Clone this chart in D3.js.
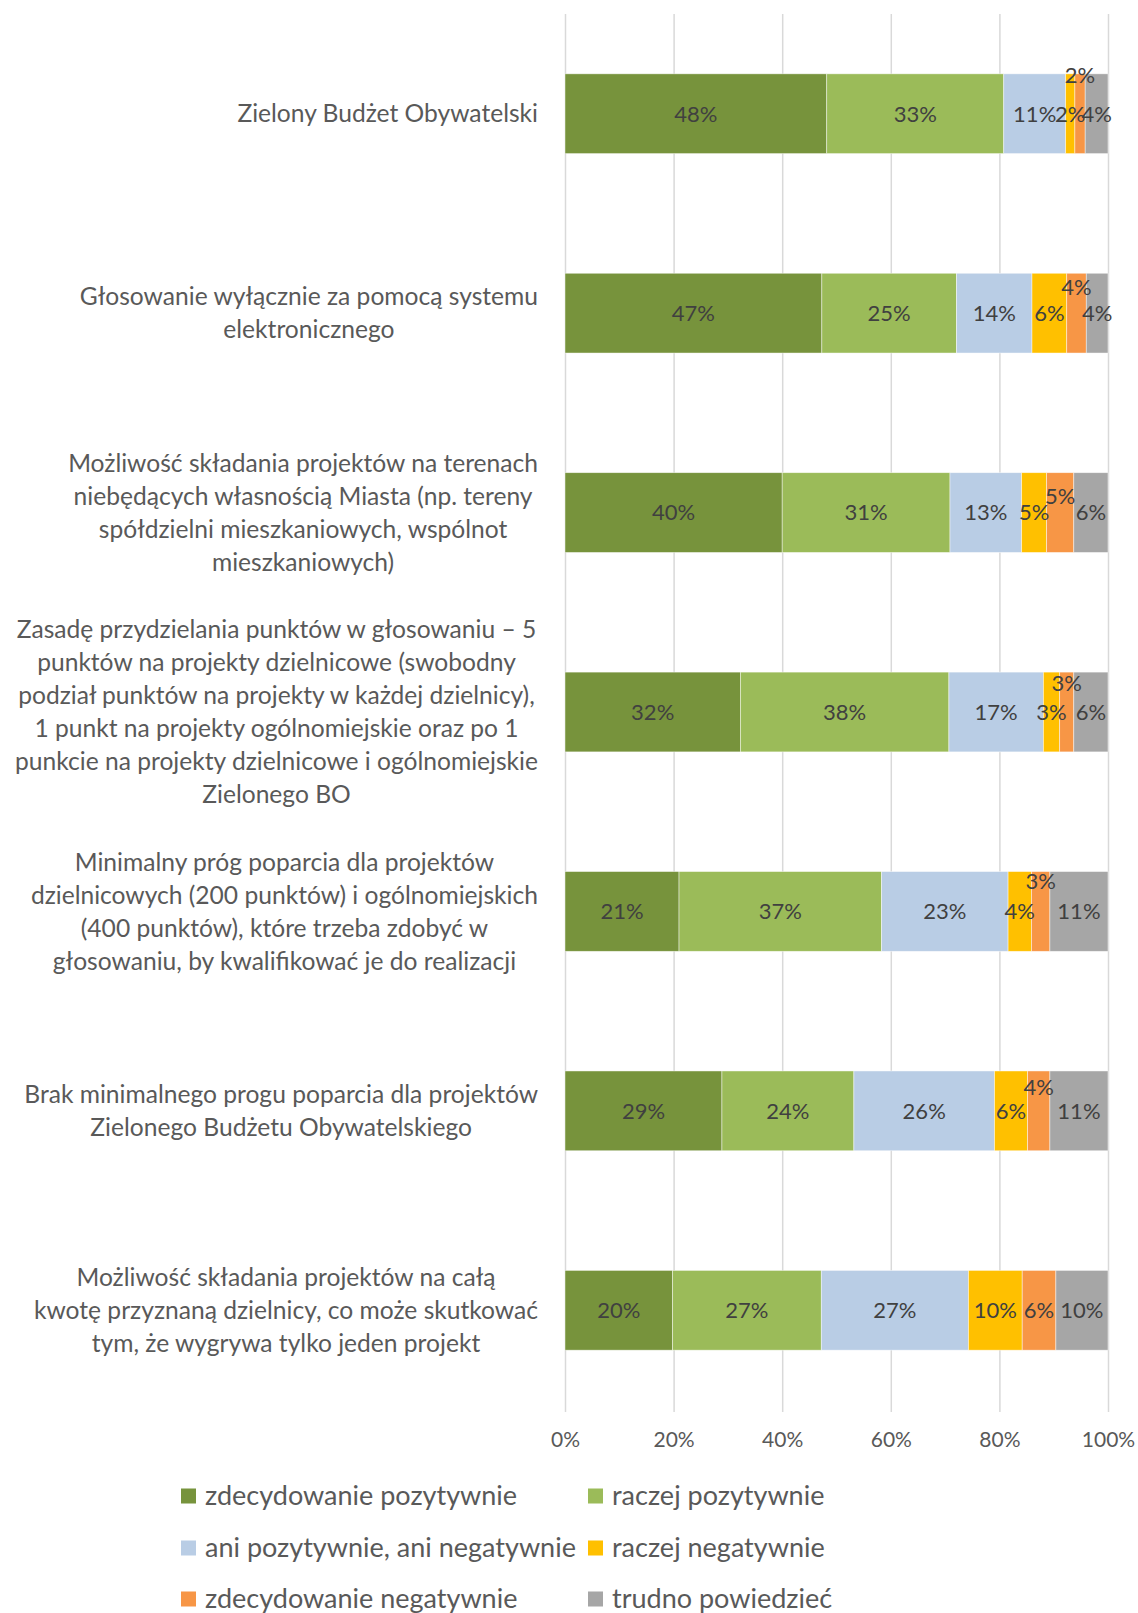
<!DOCTYPE html>
<html>
<head>
<meta charset="utf-8">
<script src="https://cdn.jsdelivr.net/npm/d3@7"></script>
<style>
  body { margin: 0; background: #fff; }
  svg { display: block; font-family: Lato, 'Open Sans', sans-serif; }
</style>
</head>
<body>
<div id="chart"></div>
<script>
// category labels, already wrapped the way the original wraps them
const categories = [
  ['Zielony Budżet Obywatelski'],
  ['Głosowanie wyłącznie za pomocą systemu', 'elektronicznego'],
  ['Możliwość składania projektów na terenach', 'niebędących własnością Miasta (np. tereny', 'spółdzielni mieszkaniowych, wspólnot', 'mieszkaniowych)'],
  ['Zasadę przydzielania punktów w głosowaniu – 5', 'punktów na projekty dzielnicowe (swobodny', 'podział punktów na projekty w każdej dzielnicy),', '1 punkt na projekty ogólnomiejskie oraz po 1', 'punkcie na projekty dzielnicowe i ogólnomiejskie', 'Zielonego BO'],
  ['Minimalny próg poparcia dla projektów', 'dzielnicowych (200 punktów) i ogólnomiejskich', '(400 punktów), które trzeba zdobyć w', 'głosowaniu, by kwalifikować je do realizacji'],
  ['Brak minimalnego progu poparcia dla projektów', 'Zielonego Budżetu Obywatelskiego'],
  ['Możliwość składania projektów na całą', 'kwotę przyznaną dzielnicy, co może skutkować', 'tym, że wygrywa tylko jeden projekt']
];

const seriesNames = [
  'zdecydowanie pozytywnie',
  'raczej pozytywnie',
  'ani pozytywnie, ani negatywnie',
  'raczej negatywnie',
  'zdecydowanie negatywnie',
  'trudno powiedzieć'
];

const zdecydowaniePozytywnie = [48.2, 47.3, 40.0, 32.3, 21.0, 28.9, 19.8];
const raczejPozytywnie       = [32.6, 24.8, 30.9, 38.4, 37.3, 24.3, 27.4];
const aniAni                 = [11.4, 13.9, 13.2, 17.4, 23.3, 25.9, 27.1];
const raczejNegatywnie       = [1.7, 6.4, 4.6, 3.0, 4.3, 6.1, 9.9];
const zdecydowanieNegatywnie = [1.9, 3.6, 5.0, 2.6, 3.4, 4.1, 6.2];
const trudnoPowiedziec       = [4.2, 4.0, 6.3, 6.3, 10.7, 10.7, 9.6];

const xTicks = [0, 20, 40, 60, 80, 100];

const colors = ['#77933C', '#9BBB59', '#B9CDE5', '#FFC000', '#F79646', '#A6A6A6'];

// the orange labels were nudged upward in the original, per row
const orangeLabelRaise = [39, 26, 16, 29, 30, 24, 0];

const seriesValues = [zdecydowaniePozytywnie, raczejPozytywnie, aniAni, raczejNegatywnie, zdecydowanieNegatywnie, trudnoPowiedziec];
const rows = categories.map((c, i) => {
  const r = { idx: i };
  seriesNames.forEach((s, j) => { r[s] = seriesValues[j][i]; });
  return r;
});

const width = 1138, height = 1613;
const plot = { left: 565, right: 1108, top: 14, bottom: 1412 };

const svg = d3.select('#chart').append('svg')
  .attr('width', width)
  .attr('height', height);

const x = d3.scaleLinear().domain([0, 100]).range([plot.left, plot.right]);
const y = d3.scaleBand()
  .domain(d3.range(categories.length))
  .range([plot.top, plot.bottom - 2])
  .paddingInner(0.6)
  .paddingOuter(0.3);

// gridlines + tick labels
const xAxis = d3.axisBottom(x)
  .tickValues(xTicks)
  .tickFormat(d => d + '%')
  .tickSize(-(plot.bottom - plot.top))
  .tickPadding(20);

const gx = svg.append('g')
  .attr('class', 'x axis')
  .attr('transform', `translate(0, ${plot.bottom})`)
  .call(xAxis);
gx.select('.domain').remove();
gx.selectAll('line').attr('stroke', '#D9D9D9').attr('stroke-width', 1.5);
gx.selectAll('text')
  .attr('fill', '#595959')
  .style('font-size', '21px')
  .style('font-family', 'Lato, sans-serif');

// bars
const stack = d3.stack().keys(seriesNames);
const layers = stack(rows);

const layer = svg.selectAll('.layer')
  .data(layers)
  .enter().append('g')
  .attr('class', 'layer')
  .attr('fill', (d, i) => colors[i]);

layer.selectAll('rect')
  .data(d => d)
  .enter().append('rect')
  .attr('x', d => x(d[0]))
  .attr('y', d => y(d.data.idx))
  .attr('width', d => x(d[1]) - x(d[0]))
  .attr('height', y.bandwidth())
  .attr('stroke', '#fff')
  .attr('stroke-opacity', 0.6)
  .attr('stroke-width', 0.75);

// data labels
layers.forEach((l, si) => {
  svg.append('g').selectAll('text')
    .data(l)
    .enter().append('text')
    .attr('x', d => (x(d[0]) + x(d[1])) / 2)
    .attr('y', d => y(d.data.idx) + y.bandwidth() / 2 - (si === 4 ? orangeLabelRaise[d.data.idx] : 0))
    .attr('dy', '0.36em')
    .attr('text-anchor', 'middle')
    .attr('fill', '#404040')
    .style('font-size', '22px')
    .text(d => Math.round(d[1] - d[0]) + '%');
});

// category labels: block right-aligned to the plot, lines centred in the block
const labelRight = 538;
const lineH = 33;
categories.forEach((lines, i) => {
  const g = svg.append('g');
  const cy = y(i) + y.bandwidth() / 2;
  const texts = g.selectAll('text')
    .data(lines)
    .enter().append('text')
    .attr('y', (d, k) => cy + (k - (lines.length - 1) / 2) * lineH)
    .attr('dy', '0.35em')
    .attr('text-anchor', 'middle')
    .attr('fill', '#595959')
    .style('font-size', '24.6px')
    .text(d => d);
  let maxW = 0;
  texts.each(function() { maxW = Math.max(maxW, this.getComputedTextLength()); });
  texts.attr('x', labelRight - maxW / 2);
});

// legend
const legendCols = [181, 588];
const legendRows = [1496, 1548, 1599];
const legend = svg.append('g').attr('class', 'legend');
seriesNames.forEach((name, i) => {
  const lx = legendCols[i % 2];
  const ly = legendRows[Math.floor(i / 2)];
  legend.append('rect')
    .attr('x', lx)
    .attr('y', ly - 7.5)
    .attr('width', 15)
    .attr('height', 15)
    .attr('fill', colors[i]);
  legend.append('text')
    .attr('x', lx + 24)
    .attr('y', ly)
    .attr('dy', '0.35em')
    .attr('fill', '#595959')
    .style('font-size', '27px')
    .text(name);
});
</script>
</body>
</html>
